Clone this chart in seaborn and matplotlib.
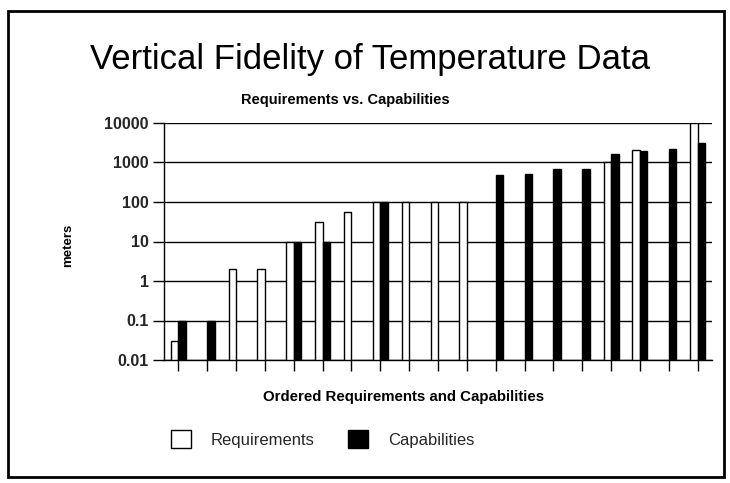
import numpy as np
import pandas as pd
import matplotlib
matplotlib.use("Agg")
import matplotlib.pyplot as plt
from matplotlib.patches import Patch, Rectangle
import seaborn as sns

# ---- data ----
categories = [str(i) for i in range(1, 20)]
requirements = [0.03, np.nan, 2.0, 2.0, 10, 32, 55, 100, 100, 100, 100,
                np.nan, np.nan, np.nan, np.nan, 1000, 2100, np.nan, 10000]
capabilities = [0.1, 0.1, np.nan, np.nan, 10, 10, np.nan, 100, np.nan, np.nan, np.nan,
                480, 500, 700, 700, 1600, 1950, 2150, 3200]
series_names = ["Requirements", "Capabilities"]
ytick_vals = [0.01, 0.1, 1, 10, 100, 1000, 10000]
ytick_labels = ["0.01", "0.1", "1", "10", "100", "1000", "10000"]

rows = []
for c, r, k in zip(categories, requirements, capabilities):
    rows.append({"category": c, "series": series_names[0], "value": r})
    rows.append({"category": c, "series": series_names[1], "value": k})
df = pd.DataFrame(rows).dropna()

sns.set_theme(style="white")
plt.rcParams["font.family"] = ["Liberation Sans", "DejaVu Sans"]

fig = plt.figure(figsize=(7.30, 4.83), dpi=100)
ax = fig.add_axes([164 / 730, 1 - 360 / 483, (712 - 164) / 730, (360 - 123) / 483])

sns.barplot(data=df, x="category", y="value", hue="series", order=categories,
            hue_order=series_names, palette={"Requirements": "white", "Capabilities": "black"},
            edgecolor="black", linewidth=1.0, width=0.52, errorbar=None,
            ax=ax, legend=False)
ax.set_yscale("log")
ax.set_ylim(0.01, 10000)
ax.set_xlim(-0.5, len(categories) - 0.5)
ax.set_axisbelow(True)
ax.yaxis.grid(True, color="black", linewidth=1.0)
ax.xaxis.grid(False)
ax.set_yticks(ytick_vals)
ax.set_yticklabels(ytick_labels)
ax.yaxis.set_minor_locator(matplotlib.ticker.NullLocator())
ax.set_xticks(range(len(categories)))
ax.set_xticklabels([])
ax.tick_params(axis="y", which="major", direction="out", length=8, width=1,
               color="black", labelsize=11.5, pad=3, left=True)
ax.tick_params(axis="x", which="major", direction="out", length=8, width=1,
               color="black", bottom=True)
for lab in ax.get_yticklabels():
    lab.set_fontweight("bold")
for s in ["top", "right"]:
    ax.spines[s].set_visible(False)
for s in ["left", "bottom"]:
    ax.spines[s].set_color("black")
    ax.spines[s].set_linewidth(1.0)

ax.set_xlabel("Ordered Requirements and Capabilities", fontsize=10.8,
              fontweight="bold", color="black")
ax.xaxis.set_label_coords((404 - 164) / (712 - 164), -(397 - 360) / (360 - 123))
ax.xaxis.label.set_va("center")
ax.set_ylabel("meters", fontsize=9.5, fontweight="bold", color="black")
ax.yaxis.set_label_coords(-(164 - 68) / (712 - 164), (360 - 245) / (360 - 123))
ax.yaxis.label.set_va("center")

fig.text(370 / 730, 1 - 59 / 483, "Vertical Fidelity of Temperature Data", ha="center",
         va="center", fontsize=25, color="black")
fig.text(345 / 730, 1 - 100 / 483, "Requirements vs. Capabilities", ha="center",
         va="center", fontsize=10.5, fontweight="bold", color="black")

handles = [Patch(facecolor="white", edgecolor="black", linewidth=1.0),
           Patch(facecolor="black", edgecolor="black", linewidth=1.0)]
fig.legend(handles, series_names, loc="center", bbox_to_anchor=(322.5 / 730, 1 - 439 / 483),
           ncol=2, frameon=False, fontsize=12, handlelength=1.2, handleheight=1.2,
           handletextpad=1.2, columnspacing=2.0)

fig.patches.append(Rectangle((8 / 730, 1 - 477 / 483), (724 - 8) / 730, (477 - 11) / 483,
                             transform=fig.transFigure, fill=False, edgecolor="black",
                             linewidth=2))

fig.savefig("out.png", dpi=100)
